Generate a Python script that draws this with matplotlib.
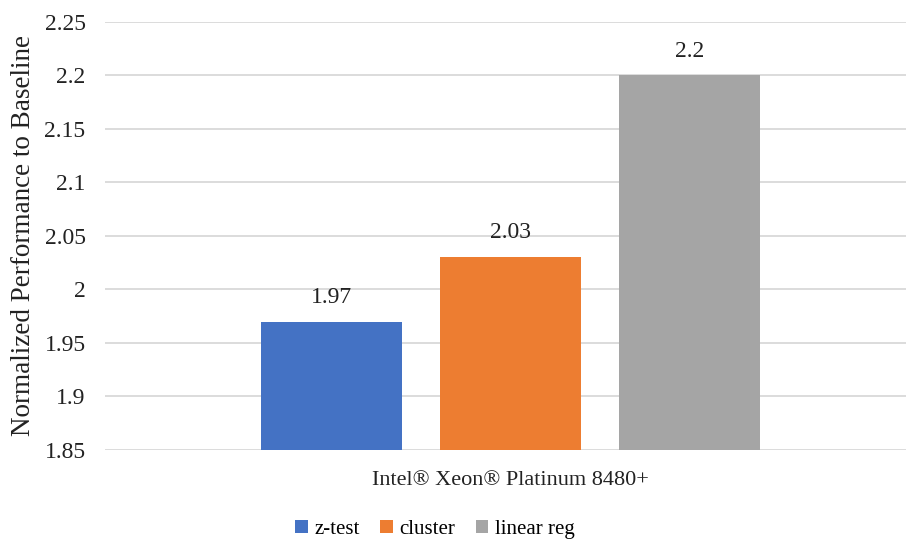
import matplotlib
matplotlib.use("Agg")
import matplotlib.pyplot as plt

# data
series = ["z-test", "cluster", "linear reg"]
values = [1.97, 2.03, 2.2]
colors = ["#4472C4", "#ED7D31", "#A5A5A5"]
category = "Intel® Xeon® Platinum 8480+"
yticks = [1.85, 1.9, 1.95, 2.0, 2.05, 2.1, 2.15, 2.2, 2.25]
ytick_labels = ["1.85", "1.9", "1.95", "2", "2.05", "2.1", "2.15", "2.2", "2.25"]

plt.rcParams["font.family"] = ["Liberation Serif", "DejaVu Serif"]

fig = plt.figure(figsize=(9.06, 5.4), dpi=100)
ax = fig.add_axes([0.1159, 0.1667, 0.8841, 0.7926])

width = 0.788
for i, (name, v, c) in enumerate(zip(series, values, colors)):
    ax.bar(i, v - 1.85, bottom=1.85, width=width, color=c, label=name, zorder=3)
    ax.annotate(f"{v:g}", (i, v), xytext=(0, 10), textcoords="offset points",
                ha="center", va="bottom", fontsize=17, color="#222222")

ax.set_ylim(1.85, 2.25)
ax.set_xlim(-1.265, 3.21)
ax.set_yticks(yticks)
ax.set_yticklabels(ytick_labels)
ax.set_xticks([1])
ax.set_xticklabels([category])
ax.tick_params(axis="both", length=0, colors="#222222")
ax.tick_params(axis="y", pad=14, labelsize=17)
ax.tick_params(axis="x", pad=15, labelsize=16)
ax.yaxis.grid(True, color="#d9d9d9", linewidth=1.3, zorder=0)
for s in ax.spines.values():
    s.set_visible(False)
ax.set_ylabel("Normalized Performance to Baseline", fontsize=19.5, color="#222222", labelpad=6)

fig.legend(loc="center", bbox_to_anchor=(0.48, 0.02), ncol=3, frameon=False,
           fontsize=15, handlelength=0.6, handleheight=0.6, handletextpad=0.3,
           columnspacing=1.0)

fig.savefig("out.png", dpi=100)
